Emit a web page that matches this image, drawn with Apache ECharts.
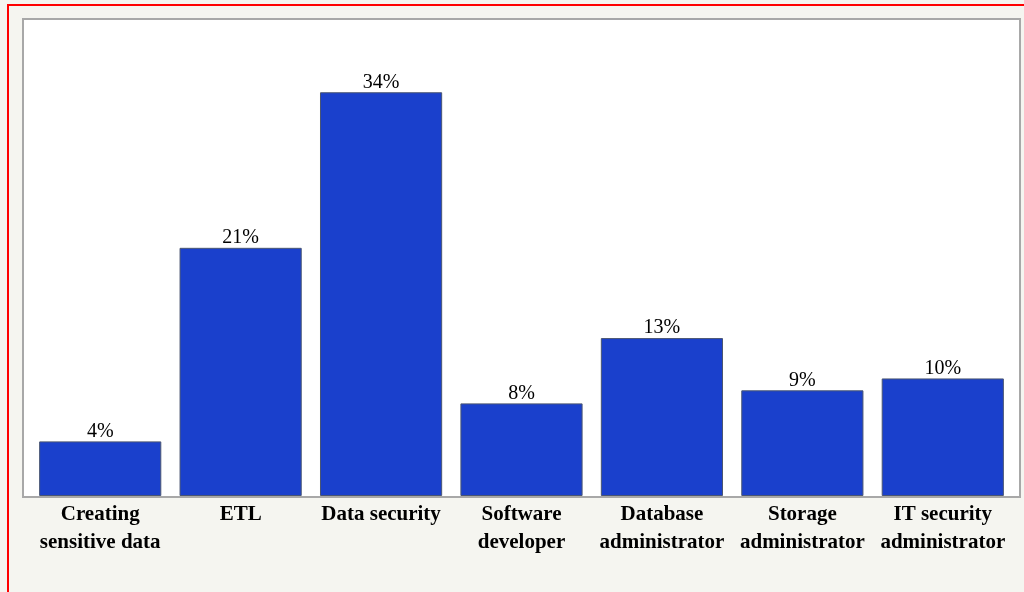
<!DOCTYPE html>
<html>
<head>
<meta charset="utf-8">
<script src="https://cdn.jsdelivr.net/npm/echarts@6/dist/echarts.min.js"></script>
<style>
html,body{margin:0;padding:0;background:#f5f5f0;}
#c{width:1024px;height:592px;}
</style>
</head>
<body>
<div id="c"></div>
<script>
const categories = ['Creating\nsensitive data', 'ETL', 'Data security', 'Software\ndeveloper', 'Database\nadministrator', 'Storage\nadministrator', 'IT security\nadministrator'];
// bar heights
const values = [4.6, 20.9, 34, 7.8, 13.3, 8.9, 9.9];
// value labels as printed on the picture
const valueLabels = ['4%', '21%', '34%', '8%', '13%', '9%', '10%'];

const chart = echarts.init(document.getElementById('c'));
const FONT = '"Liberation Serif","Times New Roman",serif';
chart.setOption({
  backgroundColor: '#f5f5f0',
  animation: false,
  graphic: [
    { type: 'rect', z: -10, shape: { x: 23, y: 19, width: 997, height: 478 },
      style: { fill: '#ffffff', stroke: '#a8a8a8', lineWidth: 2 } },
    { type: 'rect', z: 100, shape: { x: 8, y: 5, width: 1030, height: 600 },
      style: { fill: 'none', stroke: '#ff0000', lineWidth: 2 } }
  ],
  grid: { left: 30, right: 11, top: 21, bottom: 96, show: false },
  xAxis: {
    type: 'category',
    data: categories,
    axisLine: { show: false },
    axisTick: { show: false },
    axisLabel: {
      interval: 0, margin: 5, color: '#000',
      fontFamily: FONT, fontSize: 21, fontWeight: 'bold', lineHeight: 28
    }
  },
  yAxis: { type: 'value', min: 0, max: 40, show: false, splitLine: { show: false } },
  series: [{
    type: 'bar',
    data: values,
    barCategoryGap: '13%',
    itemStyle: { color: '#1a40cc', borderColor: '#4a5672', borderWidth: 1 },
    label: {
      show: true, position: 'top', distance: 0,
      formatter: p => valueLabels[p.dataIndex],
      color: '#000', fontFamily: FONT, fontSize: 20
    }
  }]
});
</script>
</body>
</html>
